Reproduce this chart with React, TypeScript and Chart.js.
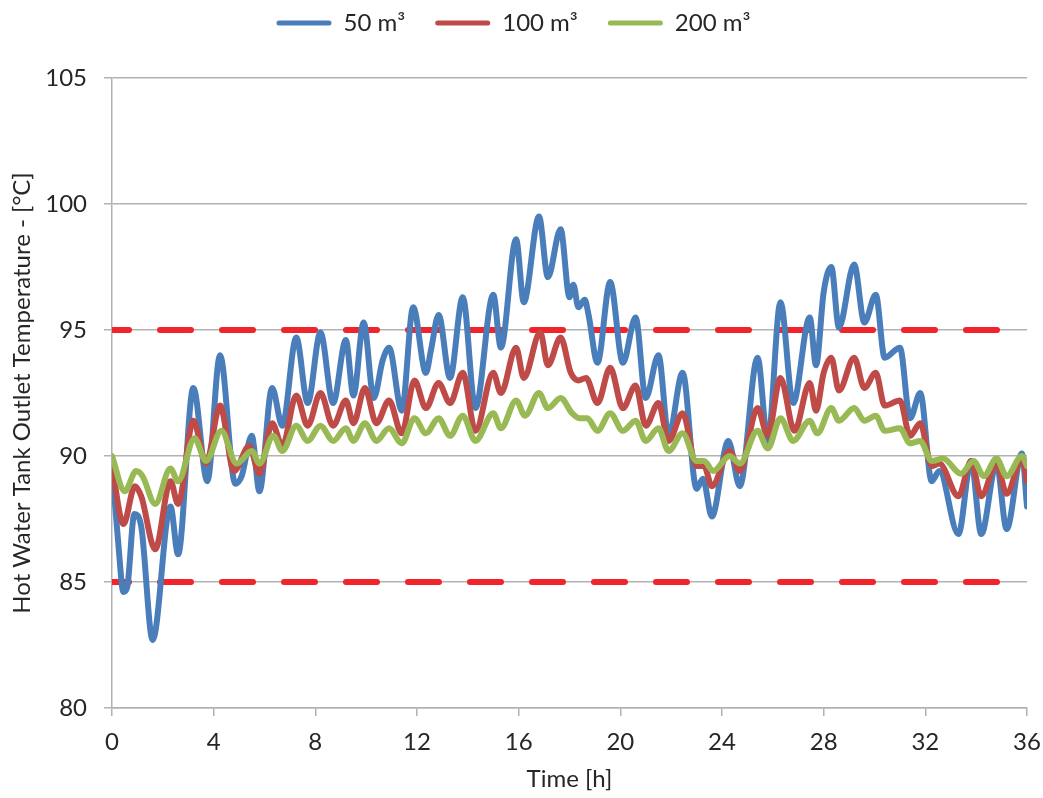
import React, { useEffect, useRef } from "react";
import { Chart, registerables } from "chart.js";

Chart.register(...registerables);

// ---- Data (time in hours, temperature in °C) ----
const seriesLabels = ["50 m³", "100 m³", "200 m³"];

const time50 = [0, 0.25, 0.45, 0.6, 0.88, 1.15, 1.6, 2.3, 2.6, 3.2, 3.75, 4.25, 4.85, 5.1, 5.5, 5.8, 6.3, 6.7, 7.25, 7.7, 8.2, 8.7, 9.2, 9.5, 9.9, 10.3, 10.65, 10.9, 11.4, 11.85, 12.35, 12.55, 12.85, 13.3, 13.8, 14.3, 15.0, 15.3, 15.9, 16.2, 16.8, 17.15, 17.65, 18.0, 18.15, 18.35, 18.6, 18.75, 19.1, 19.6, 20.1, 20.6, 21.0, 21.5, 21.9, 22.45, 23.0, 23.25, 23.6, 24.25, 24.7, 25.4, 25.8, 26.3, 26.8, 27.45, 27.7, 28.0, 28.3, 28.6, 29.2, 29.6, 30.05, 30.4, 31.0, 31.4, 31.8, 32.25, 32.55, 33.3, 33.8, 34.2, 34.8, 35.2, 35.8, 36.0];
const temp50 = [89.6, 86.5, 84.6, 84.8, 87.7, 87.2, 82.7, 88.0, 86.1, 92.7, 89.0, 94.0, 88.9, 89.2, 90.8, 88.6, 92.7, 91.2, 94.7, 92.1, 94.9, 92.1, 94.6, 92.4, 95.3, 92.3, 93.8, 94.3, 91.8, 95.9, 93.3, 94.2, 95.6, 93.1, 96.3, 91.9, 96.4, 94.3, 98.6, 96.1, 99.5, 97.1, 99.0, 96.3, 96.8, 95.9, 96.2, 95.6, 93.7, 96.9, 93.7, 95.5, 92.3, 94.0, 90.8, 93.3, 88.7, 89.1, 87.6, 90.6, 88.8, 93.9, 90.6, 96.1, 92.1, 95.5, 93.6, 96.5, 97.5, 95.1, 97.6, 95.3, 96.4, 93.9, 94.3, 91.5, 92.5, 89.0, 89.4, 86.9, 89.8, 86.9, 89.7, 87.1, 90.1, 88.0];

const time100 = [0, 0.45, 0.9, 1.15, 1.7, 2.3, 2.6, 3.2, 3.7, 4.25, 4.8, 5.4, 5.8, 6.3, 6.7, 7.25, 7.7, 8.2, 8.7, 9.2, 9.5, 9.95, 10.4, 10.9, 11.4, 11.9, 12.35, 12.85, 13.3, 13.8, 14.3, 15.0, 15.3, 15.9, 16.2, 16.85, 17.15, 17.65, 18.05, 18.35, 18.65, 19.1, 19.6, 20.1, 20.6, 21.0, 21.5, 21.9, 22.45, 23.0, 23.3, 23.6, 24.3, 24.7, 25.4, 25.8, 26.3, 26.85, 27.45, 27.7, 28.0, 28.3, 28.6, 29.2, 29.6, 30.05, 30.4, 31.0, 31.4, 31.8, 32.25, 32.55, 33.3, 33.8, 34.2, 34.8, 35.2, 35.8, 36.0];
const temp100 = [89.6, 87.3, 88.8, 88.4, 86.3, 89.0, 88.1, 91.4, 89.7, 92.0, 89.4, 90.4, 89.3, 91.3, 90.4, 92.4, 91.2, 92.5, 91.2, 92.2, 91.3, 92.7, 91.3, 92.2, 90.9, 93.0, 91.9, 92.9, 92.1, 93.3, 91.0, 93.3, 92.5, 94.3, 93.1, 94.9, 93.6, 94.7, 93.3, 93.0, 93.1, 92.1, 93.5, 91.9, 92.8, 91.2, 92.1, 90.6, 91.7, 89.6, 89.6, 88.8, 90.2, 89.4, 91.9, 90.8, 93.1, 91.0, 92.9, 91.8, 93.3, 93.9, 92.6, 93.9, 92.7, 93.3, 92.0, 92.2, 90.8, 91.3, 89.6, 89.7, 88.4, 89.8, 88.4, 89.7, 88.5, 89.9, 89.0];

const time200 = [0, 0.5, 0.95, 1.2, 1.7, 2.3, 2.6, 3.25, 3.7, 4.3, 4.9, 5.5, 5.8, 6.35, 6.7, 7.25, 7.7, 8.2, 8.7, 9.2, 9.5, 9.95, 10.4, 10.9, 11.4, 11.9, 12.35, 12.85, 13.3, 13.8, 14.3, 15.0, 15.3, 15.9, 16.25, 16.8, 17.15, 17.65, 18.1, 18.4, 18.7, 19.1, 19.6, 20.1, 20.6, 21.0, 21.5, 21.9, 22.45, 23.0, 23.3, 23.65, 24.3, 24.7, 25.4, 25.8, 26.3, 26.8, 27.45, 27.75, 28.3, 28.6, 29.2, 29.6, 30.05, 30.4, 31.0, 31.4, 31.8, 32.25, 32.7, 33.4, 33.9, 34.3, 34.8, 35.2, 35.8, 36.0];
const temp200 = [90.0, 88.6, 89.4, 89.2, 88.1, 89.5, 89.0, 90.7, 89.8, 91.0, 89.7, 90.2, 89.7, 90.8, 90.2, 91.2, 90.6, 91.2, 90.6, 91.1, 90.6, 91.3, 90.6, 91.1, 90.5, 91.5, 90.9, 91.5, 90.8, 91.6, 90.6, 91.7, 91.1, 92.2, 91.6, 92.5, 91.9, 92.3, 91.7, 91.5, 91.5, 91.0, 91.7, 91.0, 91.4, 90.6, 91.1, 90.2, 90.9, 89.8, 89.8, 89.4, 90.0, 89.7, 91.0, 90.3, 91.5, 90.6, 91.4, 90.9, 91.9, 91.4, 91.9, 91.4, 91.6, 91.0, 91.1, 90.5, 90.6, 89.8, 89.9, 89.3, 89.8, 89.2, 89.9, 89.2, 90.0, 89.6];

const limitValues = [85, 95];
const timeRange = [0, 36];
const yTicksRange = [80, 105];

const FONT = "Lato, 'Open Sans', sans-serif";
const TEXT = "#262626";
const GRID = "#B2B2B2";

function toPoints(xs: number[], ys: number[]) {
  return xs.map((x, i) => ({ x, y: ys[i] }));
}

export default function App() {
  const ref = useRef<HTMLCanvasElement | null>(null);

  useEffect(() => {
    if (!ref.current) return;
    const lineCommon = {
      pointRadius: 0,
      borderWidth: 6,
      cubicInterpolationMode: "monotone" as const,
      fill: false,
      borderCapStyle: "round" as const,
      borderJoinStyle: "round" as const,
    };
    const datasets: any[] = [
      { label: seriesLabels[0], data: toPoints(time50, temp50), borderColor: "#4A7EBB", backgroundColor: "#4A7EBB", order: 3, ...lineCommon },
      { label: seriesLabels[1], data: toPoints(time100, temp100), borderColor: "#BE4B48", backgroundColor: "#BE4B48", order: 2, ...lineCommon },
      { label: seriesLabels[2], data: toPoints(time200, temp200), borderColor: "#98B954", backgroundColor: "#98B954", order: 1, ...lineCommon },
    ];
    limitValues.forEach((v) => {
      datasets.push({
        label: "limit " + v,
        data: timeRange.map((x) => ({ x, y: v })),
        borderColor: "#F0242A",
        backgroundColor: "#F0242A",
        borderWidth: 6,
        borderDash: [31, 31],
        borderDashOffset: 14,
        borderCapStyle: "round",
        pointRadius: 0,
        order: 4,
        fill: false,
      });
    });

    const chart = new Chart(ref.current, {
      type: "line",
      data: { datasets },
      options: {
        animation: false,
        responsive: false,
        layout: { padding: { left: 0, right: 16, top: -19, bottom: 0 } },
        plugins: {
          tooltip: { enabled: false },
          title: { display: true, text: "", weight: 500, font: { size: 10 }, padding: { top: 0, bottom: 21 } } as any,
          legend: {
            position: "top",
            labels: {
              font: { family: FONT, size: 24 },
              color: TEXT,
              boxWidth: 55,
              boxHeight: 5,
              padding: 30,
              sort: (a: any, b: any) => a.datasetIndex - b.datasetIndex,
              generateLabels: (c: any) =>
                (Chart.defaults.plugins.legend.labels.generateLabels as any)(c)
                  .filter((l: any) => l.datasetIndex < 3)
                  .map((l: any) => ({ ...l, lineWidth: 0, fillStyle: l.strokeStyle, borderRadius: 2.5 })),
            },
          },
        },
        scales: {
          x: {
            type: "linear",
            min: timeRange[0],
            max: timeRange[1],
            ticks: { stepSize: 4, font: { family: FONT, size: 24 }, color: TEXT, padding: 12, maxRotation: 0 },
            grid: { drawOnChartArea: false, drawTicks: true, tickLength: 8, color: GRID, lineWidth: 1.5 },
            border: { color: GRID, width: 1.5 },
            title: { display: true, text: "Time [h]", font: { family: FONT, size: 24 }, color: TEXT, padding: { top: 0, bottom: 4 } },
            afterFit: (s: any) => { s.height = 90; s.paddingRight = 0; s.paddingLeft = 0; },
          },
          y: {
            min: yTicksRange[0],
            max: yTicksRange[1],
            ticks: { stepSize: 5, font: { family: FONT, size: 24 }, color: TEXT, padding: 17 },
            grid: { color: GRID, lineWidth: 1.5, tickLength: 8 },
            border: { color: GRID, width: 1.5 },
            title: { display: true, text: "Hot Water Tank Outlet Temperature - [°C]", font: { family: FONT, size: 24 }, color: TEXT, padding: { top: 8, bottom: 0 } },
            afterFit: (s: any) => { s.width = 112; },
          },
        },
      },
    });
    return () => chart.destroy();
  }, []);

  return (
    <div style={{ position: "fixed", left: 0, top: 0, width: 1043, height: 798, background: "#fff" }}>
      <canvas ref={ref} width={1043} height={798} style={{ display: "block" }} />
    </div>
  );
}
